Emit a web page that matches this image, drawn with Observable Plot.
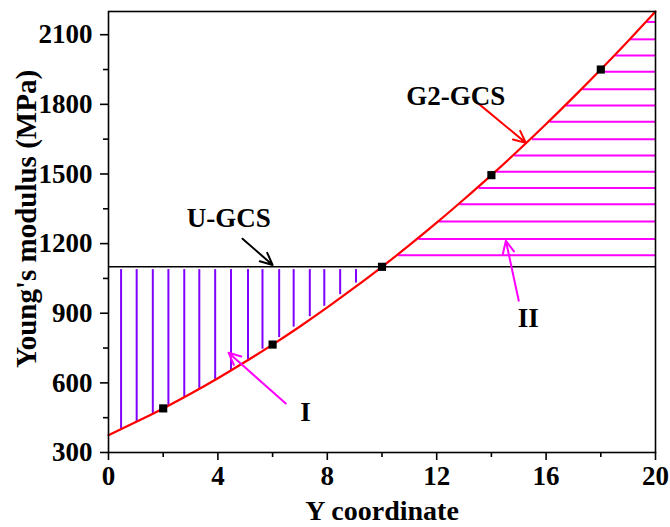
<!DOCTYPE html>
<html>
<head>
<meta charset="utf-8">
<script src="https://cdn.jsdelivr.net/npm/d3@7"></script>
<script src="https://cdn.jsdelivr.net/npm/@observablehq/plot@0.6"></script>
<style>
  html, body { margin: 0; padding: 0; background: white; }
</style>
</head>
<body>
<div id="chart"></div>
<script>
// ---- data ----
const curveX = [0,1,2,3,4,5,6,7,8,9,10,11,12,13,14,15,16,17,18,19,20];
const curveY = [375,431,490,553,620,691,765,843,925,1011,1100,1193,1290,1391,1495,1603,1715,1831,1950,2073,2200];
const sampleX = [2,6,10,14,18];
const sampleY = [490,765,1100,1495,1950];
const ugcsValue = 1100;
// region I vertical hatch (x position, lower end)
const hatchIX = [0.46,1.03,1.62,2.19,2.77,3.32,3.9,4.48,5.1,5.63,6.24,6.77,7.36,7.89,8.47,9.05];
const hatchIBottom = [400,432,467,502,538,574,613,653,698,745,795,840,885,930,980,1030];
const hatchITop = 1088;
// region II horizontal hatch (y value, left start)
const hatchIIY = [1150,1220,1295,1370,1440,1510,1580,1650,1725,1795,1865,1940,2010,2080,2155];
const hatchIIStart = [10.6,11.35,12.1,12.85,13.55,14.2,14.85,15.5,16.15,16.75,17.35,17.95,18.55,19.1,19.7];
const hatchIIEnd = 20;
const xTicks = [0,4,8,12,16,20];
const xMinor = [2,6,10,14,18];
const yTicks = [300,600,900,1200,1500,1800,2100];
const yMinor = [450,750,1050,1350,1650,1950];
const labels = ["U-GCS","G2-GCS","I","II"];
const labelX = [4.4,12.7,7.2,15.35];
const labelY = [1310,1836,472,877];
const labelColor = ["black","black","black","black"];
const arrowX1 = [4.9,13.54,6.48,15.0];
const arrowY1 = [1221,1802,511,954];
const arrowX2 = [6.0,15.26,4.39,14.53];
const arrowY2 = [1108,1634,730,1212];
const arrowColor = ["black","red","#ff00ff","#ff00ff"];

const curve = curveX.map((x,i)=>({x, y: curveY[i]}));
const samples = sampleX.map((x,i)=>({x, y: sampleY[i]}));
const hatchI = hatchIX.map((x,i)=>({x, y1: hatchITop, y2: hatchIBottom[i]}));
const hatchII = hatchIIY.map((y,i)=>({y, x1: hatchIIStart[i], x2: hatchIIEnd}));
const notes = labels.map((t,i)=>({t, x: labelX[i], y: labelY[i], c: labelColor[i]}));
const arrows = arrowX1.map((x1,i)=>({x1, y1: arrowY1[i], x2: arrowX2[i], y2: arrowY2[i], c: arrowColor[i]}));

const font = "'Liberation Serif', 'Times New Roman', serif";
const fmt = d => String(d);

const chart = Plot.plot({
  width: 670,
  height: 527,
  marginLeft: 108,
  marginRight: 15,
  marginTop: 11,
  marginBottom: 75,
  style: {fontFamily: font, background: "white", color: "black"},
  x: {domain: [0,20]},
  y: {domain: [300,2200]},
  marks: [
    Plot.ruleX(hatchI, {x: "x", y1: "y1", y2: "y2", stroke: "#7f00ff", strokeWidth: 2}),
    Plot.ruleY(hatchII, {y: "y", x1: "x1", x2: "x2", stroke: "#ff00ff", strokeWidth: 2}),
    Plot.ruleY([ugcsValue], {x1: 0, x2: 20, stroke: "black", strokeWidth: 1.6}),
    Plot.line(curve, {x: "x", y: "y", stroke: "red", strokeWidth: 2.2, curve: "natural"}),
    Plot.dot(samples, {x: "x", y: "y", symbol: "square", r: 4.6, fill: "black", stroke: "none"}),
    Plot.arrow(arrows, {x1: "x1", y1: "y1", x2: "x2", y2: "y2", stroke: "c", strokeWidth: 2, headLength: 10, headAngle: 50}),
    Plot.text(notes, {x: "x", y: "y", text: "t", fill: "c", fontSize: 27, fontWeight: "bold", textAnchor: "middle", lineAnchor: "middle"}),
    Plot.frame({stroke: "black", strokeWidth: 1.6}),
    Plot.axisX({ticks: xTicks, tickSize: 8, tickPadding: 5, tickFormat: fmt, fontSize: 27, fontWeight: "bold", strokeWidth: 1.6, label: null}),
    Plot.axisX({ticks: xMinor, tickSize: 5, tickFormat: () => "", strokeWidth: 1.6, label: null}),
    Plot.axisY({ticks: yTicks, tickSize: 8, tickPadding: 8, tickFormat: fmt, fontSize: 27, fontWeight: "bold", strokeWidth: 1.6, label: null}),
    Plot.axisY({ticks: yMinor, tickSize: 5, tickFormat: () => "", strokeWidth: 1.6, label: null}),
    Plot.text(["Y coordinate"], {frameAnchor: "bottom", dy: 67, lineAnchor: "bottom", textAnchor: "middle", fontSize: 28, fontWeight: "bold", fill: "black"}),
    Plot.text(["Young's modulus (MPa)"], {frameAnchor: "left", dx: -82, dy: -13, rotate: -90, textAnchor: "middle", lineAnchor: "middle", fontSize: 29, fontWeight: "bold", fill: "black"})
  ]
});
document.getElementById("chart").appendChild(chart);
</script>
</body>
</html>
